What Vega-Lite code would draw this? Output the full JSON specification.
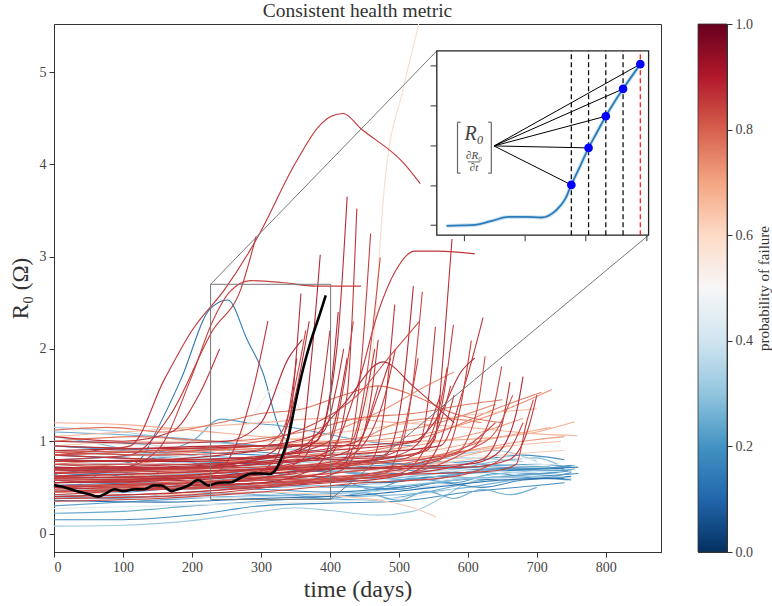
{
"$schema":"https://vega.github.io/schema/vega-lite/v6.json",
"padding":{"left":8,"top":0,"right":0,"bottom":0},
"spacing":35,
"config":{"font":"Liberation Serif","view":{"stroke":"#333","strokeWidth":1},
"axis":{"grid":false,"labelFont":"Liberation Serif","labelFontSize":14,"labelColor":"#444","tickColor":"#333","domainColor":"#333","tickSize":5,"titleFont":"Liberation Serif","titleFontWeight":"normal","titleColor":"#333"}},
"datasets":{
"meta":[{"s":1,"p":0.18},{"s":2,"p":0.12},{"s":3,"p":0.25},{"s":4,"p":0.2},{"s":5,"p":0.3},{"s":6,"p":0.15},{"s":7,"p":0.22},{"s":8,"p":0.1},{"s":9,"p":0.28},{"s":10,"p":0.2},{"s":11,"p":0.16},{"s":12,"p":0.33},{"s":13,"p":0.24},{"s":14,"p":0.14},{"s":15,"p":0.3},{"s":16,"p":0.07},{"s":17,"p":0.38},{"s":18,"p":0.42},{"s":19,"p":0.36},{"s":20,"p":0.45},{"s":21,"p":0.19},{"s":22,"p":0.26},{"s":23,"p":0.1},{"s":24,"p":0.2},{"s":25,"p":0.17},{"s":26,"p":0.23},{"s":27,"p":0.13},{"s":28,"p":0.5},{"s":29,"p":0.55},{"s":30,"p":0.52},{"s":31,"p":0.48},{"s":32,"p":0.7},{"s":33,"p":0.68},{"s":34,"p":0.75},{"s":35,"p":0.78},{"s":36,"p":0.65},{"s":37,"p":0.72},{"s":38,"p":0.8},{"s":39,"p":0.66},{"s":40,"p":0.74},{"s":41,"p":0.7},{"s":42,"p":0.6},{"s":43,"p":0.76},{"s":44,"p":0.64},{"s":45,"p":0.73},{"s":46,"p":0.79},{"s":47,"p":0.9},{"s":48,"p":0.88},{"s":49,"p":0.9},{"s":50,"p":0.92},{"s":51,"p":0.9},{"s":52,"p":0.88},{"s":53,"p":0.93},{"s":54,"p":0.86},{"s":55,"p":0.9},{"s":56,"p":0.92},{"s":57,"p":0.87},{"s":58,"p":0.9},{"s":59,"p":0.91},{"s":60,"p":0.89},{"s":61,"p":0.9},{"s":62,"p":0.88},{"s":63,"p":0.86},{"s":64,"p":0.87},{"s":65,"p":0.9},{"s":66,"p":0.88},{"s":67,"p":0.9},{"s":68,"p":0.93},{"s":69,"p":0.91},{"s":70,"p":0.9},{"s":71,"p":0.88},{"s":72,"p":0.9},{"s":73,"p":0.86},{"s":74,"p":0.92},{"s":75,"p":0.9},{"s":76,"p":0.87},{"s":77,"p":0.93},{"s":78,"p":0.89},{"s":79,"p":0.9},{"s":80,"p":0.85},{"s":81,"p":0.92},{"s":82,"p":0.9},{"s":83,"p":0.88},{"s":84,"p":0.91},{"s":85,"p":0.93},{"s":86,"p":0.87},{"s":87,"p":0.9},{"s":88,"p":0.88},{"s":89,"p":0.92},{"s":90,"p":0.86},{"s":91,"p":0.9},{"s":92,"p":0.87},{"s":93,"p":0.91},{"s":94,"p":0.89},{"s":95,"p":0.7},{"s":96,"p":0.63},{"s":97,"p":0.77},{"s":98,"p":0.82},{"s":99,"p":0.15},{"s":100,"p":0.22},{"s":101,"p":0.32},{"s":102,"p":0.12},{"s":103,"p":0.27},{"s":104,"p":0.4},{"s":105,"p":0.08},{"s":106,"p":0.9},{"s":107,"p":0.93},{"s":108,"p":0.88}],
"pts":[
{"s":1,"t":0,"r":0.95},{"s":1,"t":100,"r":0.9},{"s":1,"t":200,"r":0.85},{"s":1,"t":300,"r":0.8},{"s":1,"t":400,"r":0.72},{"s":1,"t":500,"r":0.7},{"s":1,"t":600,"r":0.72},{"s":1,"t":700,"r":0.75},{"s":1,"t":750,"r":0.72},
{"s":2,"t":0,"r":0.7},{"s":2,"t":120,"r":0.62},{"s":2,"t":240,"r":0.66},{"s":2,"t":360,"r":0.6},{"s":2,"t":460,"r":0.55},{"s":2,"t":560,"r":0.62},{"s":2,"t":650,"r":0.7},{"s":2,"t":745,"r":0.68},
{"s":3,"t":0,"r":0.45},{"s":3,"t":100,"r":0.5},{"s":3,"t":200,"r":0.48},{"s":3,"t":300,"r":0.55},{"s":3,"t":400,"r":0.5},{"s":3,"t":500,"r":0.58},{"s":3,"t":600,"r":0.65},{"s":3,"t":700,"r":0.7},{"s":3,"t":755,"r":0.74},
{"s":4,"t":0,"r":0.3},{"s":4,"t":120,"r":0.35},{"s":4,"t":250,"r":0.4},{"s":4,"t":350,"r":0.42},{"s":4,"t":450,"r":0.45},{"s":4,"t":550,"r":0.55},{"s":4,"t":650,"r":0.62},{"s":4,"t":730,"r":0.66},
{"s":5,"t":0,"r":0.08},{"s":5,"t":100,"r":0.09},{"s":5,"t":200,"r":0.14},{"s":5,"t":300,"r":0.24},{"s":5,"t":350,"r":0.28},{"s":5,"t":400,"r":0.25},{"s":5,"t":470,"r":0.2},{"s":5,"t":520,"r":0.24},{"s":5,"t":567,"r":0.41},{"s":5,"t":600,"r":0.55},{"s":5,"t":650,"r":0.62},
{"s":6,"t":0,"r":0.15},{"s":6,"t":100,"r":0.15},{"s":6,"t":200,"r":0.2},{"s":6,"t":300,"r":0.3},{"s":6,"t":400,"r":0.33},{"s":6,"t":500,"r":0.35},{"s":6,"t":600,"r":0.45},{"s":6,"t":700,"r":0.52},{"s":6,"t":740,"r":0.55},
{"s":7,"t":0,"r":0.22},{"s":7,"t":100,"r":0.24},{"s":7,"t":200,"r":0.3},{"s":7,"t":300,"r":0.35},{"s":7,"t":380,"r":0.38},{"s":7,"t":460,"r":0.36},{"s":7,"t":540,"r":0.45},{"s":7,"t":640,"r":0.6},{"s":7,"t":720,"r":0.65},
{"s":8,"t":0,"r":0.8},{"s":8,"t":80,"r":0.75},{"s":8,"t":160,"r":0.82},{"s":8,"t":240,"r":0.7},{"s":8,"t":320,"r":0.65},{"s":8,"t":400,"r":0.6},{"s":8,"t":480,"r":0.55},{"s":8,"t":560,"r":0.62},{"s":8,"t":650,"r":0.58},{"s":8,"t":750,"r":0.62},
{"s":9,"t":0,"r":1.05},{"s":9,"t":80,"r":0.95},{"s":9,"t":160,"r":0.8},{"s":9,"t":240,"r":0.75},{"s":9,"t":320,"r":0.7},{"s":9,"t":400,"r":0.68},{"s":9,"t":480,"r":0.62},{"s":9,"t":560,"r":0.65},{"s":9,"t":640,"r":0.72},{"s":9,"t":710,"r":0.7},
{"s":10,"t":0,"r":0.55},{"s":10,"t":90,"r":0.58},{"s":10,"t":180,"r":0.52},{"s":10,"t":270,"r":0.6},{"s":10,"t":360,"r":0.55},{"s":10,"t":450,"r":0.6},{"s":10,"t":540,"r":0.58},{"s":10,"t":630,"r":0.7},{"s":10,"t":720,"r":0.68},{"s":10,"t":755,"r":0.7},
{"s":11,"t":0,"r":0.62},{"s":11,"t":100,"r":0.66},{"s":11,"t":200,"r":0.6},{"s":11,"t":300,"r":0.64},{"s":11,"t":400,"r":0.7},{"s":11,"t":500,"r":0.75},{"s":11,"t":600,"r":0.78},{"s":11,"t":680,"r":0.85},{"s":11,"t":740,"r":0.8},
{"s":12,"t":0,"r":1.15},{"s":12,"t":100,"r":1.1},{"s":12,"t":200,"r":1.0},{"s":12,"t":300,"r":0.95},{"s":12,"t":400,"r":0.85},{"s":12,"t":500,"r":0.8},{"s":12,"t":600,"r":0.82},{"s":12,"t":680,"r":0.78},
{"s":13,"t":0,"r":0.4},{"s":13,"t":100,"r":0.38},{"s":13,"t":200,"r":0.45},{"s":13,"t":300,"r":0.42},{"s":13,"t":400,"r":0.4},{"s":13,"t":500,"r":0.42},{"s":13,"t":600,"r":0.5},{"s":13,"t":700,"r":0.6},{"s":13,"t":745,"r":0.58},
{"s":14,"t":0,"r":0.5},{"s":14,"t":100,"r":0.45},{"s":14,"t":200,"r":0.5},{"s":14,"t":300,"r":0.48},{"s":14,"t":400,"r":0.45},{"s":14,"t":500,"r":0.5},{"s":14,"t":600,"r":0.6},{"s":14,"t":700,"r":0.62},{"s":14,"t":760,"r":0.65},
{"s":15,"t":0,"r":0.75},{"s":15,"t":100,"r":0.72},{"s":15,"t":200,"r":0.78},{"s":15,"t":300,"r":0.74},{"s":15,"t":400,"r":0.68},{"s":15,"t":500,"r":0.72},{"s":15,"t":580,"r":0.85},{"s":15,"t":640,"r":0.9},{"s":15,"t":700,"r":0.78},
{"s":16,"t":0,"r":0.85},{"s":16,"t":150,"r":0.8},{"s":16,"t":300,"r":0.75},{"s":16,"t":450,"r":0.7},{"s":16,"t":550,"r":0.68},{"s":16,"t":650,"r":0.72},{"s":16,"t":740,"r":0.7},
{"s":17,"t":0,"r":0.35},{"s":17,"t":150,"r":0.38},{"s":17,"t":300,"r":0.4},{"s":17,"t":400,"r":0.42},{"s":17,"t":500,"r":0.48},{"s":17,"t":600,"r":0.55},{"s":17,"t":700,"r":0.6},{"s":17,"t":740,"r":0.62},
{"s":18,"t":0,"r":0.6},{"s":18,"t":150,"r":0.55},{"s":18,"t":300,"r":0.62},{"s":18,"t":400,"r":0.58},{"s":18,"t":500,"r":0.52},{"s":18,"t":600,"r":0.6},{"s":18,"t":690,"r":0.58},
{"s":19,"t":0,"r":0.9},{"s":19,"t":120,"r":0.85},{"s":19,"t":250,"r":0.8},{"s":19,"t":400,"r":0.78},{"s":19,"t":500,"r":0.75},{"s":19,"t":600,"r":0.7},{"s":19,"t":720,"r":0.72},
{"s":20,"t":0,"r":0.27},{"s":20,"t":150,"r":0.3},{"s":20,"t":300,"r":0.33},{"s":20,"t":450,"r":0.36},{"s":20,"t":520,"r":0.4},{"s":20,"t":580,"r":0.48},
{"s":21,"t":0,"r":0.65},{"s":21,"t":40,"r":0.55},{"s":21,"t":80,"r":0.7},{"s":21,"t":130,"r":0.6},{"s":21,"t":170,"r":0.72},{"s":21,"t":230,"r":0.6},{"s":21,"t":280,"r":0.68},{"s":21,"t":340,"r":0.5},{"s":21,"t":400,"r":0.62},{"s":21,"t":460,"r":0.48},{"s":21,"t":520,"r":0.6},{"s":21,"t":580,"r":0.55},{"s":21,"t":640,"r":0.65},{"s":21,"t":700,"r":0.6},{"s":21,"t":750,"r":0.66},
{"s":22,"t":0,"r":0.58},{"s":22,"t":100,"r":0.6},{"s":22,"t":200,"r":0.65},{"s":22,"t":300,"r":0.7},{"s":22,"t":400,"r":0.68},{"s":22,"t":480,"r":0.6},{"s":22,"t":560,"r":0.66},{"s":22,"t":640,"r":0.78},{"s":22,"t":700,"r":0.82},{"s":22,"t":730,"r":0.75},
{"s":23,"t":0,"r":0.62},{"s":23,"t":100,"r":0.7},{"s":23,"t":130,"r":0.85},{"s":23,"t":145,"r":1.06},{"s":23,"t":184,"r":1.67},{"s":23,"t":226,"r":2.43},{"s":23,"t":252,"r":2.53},{"s":23,"t":280,"r":2.1},{"s":23,"t":303,"r":1.74},{"s":23,"t":325,"r":1.17},{"s":23,"t":345,"r":0.92},
{"s":24,"t":0,"r":0.8},{"s":24,"t":120,"r":0.85},{"s":24,"t":200,"r":1.0},{"s":24,"t":242,"r":1.24},{"s":24,"t":280,"r":1.2},{"s":24,"t":325,"r":1.17},{"s":24,"t":380,"r":1.1},{"s":24,"t":450,"r":1.0},{"s":24,"t":520,"r":0.95},
{"s":25,"t":0,"r":1.0},{"s":25,"t":100,"r":0.98},{"s":25,"t":200,"r":0.92},{"s":25,"t":300,"r":0.88},{"s":25,"t":400,"r":0.8},{"s":25,"t":500,"r":0.75},{"s":25,"t":600,"r":0.7},{"s":25,"t":700,"r":0.65},{"s":25,"t":750,"r":0.68},
{"s":26,"t":0,"r":0.42},{"s":26,"t":150,"r":0.4},{"s":26,"t":300,"r":0.45},{"s":26,"t":400,"r":0.38},{"s":26,"t":450,"r":0.44},{"s":26,"t":500,"r":0.36},{"s":26,"t":540,"r":0.46},{"s":26,"t":580,"r":0.38},{"s":26,"t":620,"r":0.48},{"s":26,"t":660,"r":0.42},{"s":26,"t":700,"r":0.5},
{"s":27,"t":0,"r":0.52},{"s":27,"t":150,"r":0.55},{"s":27,"t":300,"r":0.5},{"s":27,"t":420,"r":0.52},{"s":27,"t":500,"r":0.48},{"s":27,"t":560,"r":0.55},{"s":27,"t":620,"r":0.5},{"s":27,"t":680,"r":0.58},{"s":27,"t":720,"r":0.6},{"s":27,"t":750,"r":0.58},
{"s":99,"t":0,"r":0.95},{"s":99,"t":150,"r":0.9},{"s":99,"t":300,"r":0.85},{"s":99,"t":450,"r":0.78},{"s":99,"t":600,"r":0.72},{"s":99,"t":700,"r":0.7},{"s":99,"t":750,"r":0.74},
{"s":100,"t":0,"r":1.1},{"s":100,"t":150,"r":1.05},{"s":100,"t":300,"r":0.95},{"s":100,"t":450,"r":0.85},{"s":100,"t":600,"r":0.76},{"s":100,"t":720,"r":0.72},
{"s":101,"t":0,"r":0.85},{"s":101,"t":100,"r":0.88},{"s":101,"t":200,"r":0.82},{"s":101,"t":300,"r":0.8},{"s":101,"t":400,"r":0.75},{"s":101,"t":500,"r":0.65},{"s":101,"t":600,"r":0.6},{"s":101,"t":700,"r":0.62},{"s":101,"t":750,"r":0.6},
{"s":102,"t":0,"r":0.72},{"s":102,"t":120,"r":0.68},{"s":102,"t":240,"r":0.72},{"s":102,"t":360,"r":0.68},{"s":102,"t":480,"r":0.65},{"s":102,"t":600,"r":0.66},{"s":102,"t":700,"r":0.7},{"s":102,"t":760,"r":0.72},
{"s":103,"t":0,"r":0.47},{"s":103,"t":150,"r":0.5},{"s":103,"t":300,"r":0.52},{"s":103,"t":450,"r":0.5},{"s":103,"t":550,"r":0.55},{"s":103,"t":650,"r":0.65},{"s":103,"t":720,"r":0.7},
{"s":104,"t":0,"r":0.78},{"s":104,"t":150,"r":0.75},{"s":104,"t":300,"r":0.72},{"s":104,"t":450,"r":0.7},{"s":104,"t":600,"r":0.68},{"s":104,"t":700,"r":0.66},
{"s":105,"t":0,"r":0.36},{"s":105,"t":150,"r":0.34},{"s":105,"t":300,"r":0.38},{"s":105,"t":450,"r":0.42},{"s":105,"t":550,"r":0.5},{"s":105,"t":650,"r":0.58},{"s":105,"t":740,"r":0.6},
{"s":28,"t":0,"r":0.7},{"s":28,"t":100,"r":0.72},{"s":28,"t":200,"r":0.68},{"s":28,"t":300,"r":0.75},{"s":28,"t":400,"r":0.72},{"s":28,"t":500,"r":0.8},{"s":28,"t":600,"r":0.85},{"s":28,"t":700,"r":0.8},
{"s":29,"t":0,"r":1.0},{"s":29,"t":150,"r":0.95},{"s":29,"t":300,"r":0.9},{"s":29,"t":400,"r":0.95},{"s":29,"t":500,"r":0.92},{"s":29,"t":600,"r":0.9},{"s":29,"t":660,"r":0.95},
{"s":30,"t":0,"r":0.75},{"s":30,"t":150,"r":0.8},{"s":30,"t":250,"r":0.9},{"s":30,"t":290,"r":1.3},{"s":30,"t":320,"r":1.58},{"s":30,"t":345,"r":1.5},{"s":30,"t":370,"r":1.1},{"s":30,"t":400,"r":0.9},{"s":30,"t":480,"r":0.8},
{"s":31,"t":0,"r":0.45},{"s":31,"t":120,"r":0.5},{"s":31,"t":240,"r":0.55},{"s":31,"t":360,"r":0.5},{"s":31,"t":480,"r":0.6},{"s":31,"t":600,"r":0.7},{"s":31,"t":720,"r":0.75},
{"s":32,"t":0,"r":1.2},{"s":32,"t":100,"r":1.18},{"s":32,"t":200,"r":1.12},{"s":32,"t":300,"r":1.05},{"s":32,"t":400,"r":1.0},{"s":32,"t":500,"r":1.0},{"s":32,"t":600,"r":1.02},{"s":32,"t":700,"r":1.1},{"s":32,"t":755,"r":1.21},
{"s":33,"t":0,"r":1.05},{"s":33,"t":100,"r":1.1},{"s":33,"t":200,"r":1.15},{"s":33,"t":300,"r":1.2},{"s":33,"t":400,"r":1.25},{"s":33,"t":500,"r":1.2},{"s":33,"t":600,"r":1.15},{"s":33,"t":700,"r":1.08},{"s":33,"t":759,"r":1.06},
{"s":34,"t":0,"r":0.9},{"s":34,"t":120,"r":0.85},{"s":34,"t":240,"r":0.9},{"s":34,"t":360,"r":0.95},{"s":34,"t":450,"r":1.0},{"s":34,"t":550,"r":1.1},{"s":34,"t":640,"r":1.3},{"s":34,"t":722,"r":1.56},
{"s":35,"t":0,"r":0.75},{"s":35,"t":120,"r":0.8},{"s":35,"t":240,"r":0.78},{"s":35,"t":360,"r":0.85},{"s":35,"t":460,"r":0.9},{"s":35,"t":560,"r":1.1},{"s":35,"t":640,"r":1.35},{"s":35,"t":707,"r":1.53},
{"s":36,"t":0,"r":0.95},{"s":36,"t":150,"r":1.0},{"s":36,"t":300,"r":1.0},{"s":36,"t":420,"r":1.1},{"s":36,"t":520,"r":1.2},{"s":36,"t":620,"r":1.3},{"s":36,"t":700,"r":1.35},
{"s":37,"t":0,"r":0.62},{"s":37,"t":150,"r":0.65},{"s":37,"t":300,"r":0.7},{"s":37,"t":400,"r":0.78},{"s":37,"t":480,"r":0.9},{"s":37,"t":560,"r":1.0},{"s":37,"t":620,"r":1.1},{"s":37,"t":680,"r":1.25},
{"s":38,"t":0,"r":1.12},{"s":38,"t":80,"r":1.15},{"s":38,"t":160,"r":1.1},{"s":38,"t":240,"r":1.2},{"s":38,"t":300,"r":1.3},{"s":38,"t":360,"r":1.35},{"s":38,"t":420,"r":1.5},{"s":38,"t":470,"r":1.6},{"s":38,"t":520,"r":1.5},{"s":38,"t":580,"r":1.3},{"s":38,"t":650,"r":1.2},
{"s":39,"t":0,"r":0.55},{"s":39,"t":120,"r":0.6},{"s":39,"t":240,"r":0.62},{"s":39,"t":360,"r":0.7},{"s":39,"t":460,"r":0.75},{"s":39,"t":560,"r":0.85},{"s":39,"t":660,"r":0.95},{"s":39,"t":735,"r":1.0},
{"s":40,"t":0,"r":0.85},{"s":40,"t":100,"r":0.88},{"s":40,"t":200,"r":0.92},{"s":40,"t":300,"r":0.95},{"s":40,"t":360,"r":1.0},{"s":40,"t":420,"r":1.15},{"s":40,"t":480,"r":1.35},{"s":40,"t":540,"r":1.6},{"s":40,"t":580,"r":1.75},
{"s":41,"t":0,"r":0.48},{"s":41,"t":150,"r":0.5},{"s":41,"t":300,"r":0.55},{"s":41,"t":420,"r":0.6},{"s":41,"t":520,"r":0.7},{"s":41,"t":600,"r":0.85},{"s":41,"t":660,"r":0.95},
{"s":42,"t":0,"r":0.8},{"s":42,"t":150,"r":0.78},{"s":42,"t":300,"r":0.82},{"s":42,"t":400,"r":0.85},{"s":42,"t":440,"r":1.0},{"s":42,"t":460,"r":1.81},{"s":42,"t":480,"r":3.84},{"s":42,"t":506,"r":4.81},{"s":42,"t":528,"r":5.5},{"s":42,"t":540,"r":5.9},
{"s":43,"t":0,"r":0.7},{"s":43,"t":100,"r":0.75},{"s":43,"t":200,"r":0.8},{"s":43,"t":300,"r":0.78},{"s":43,"t":380,"r":0.85},{"s":43,"t":440,"r":1.0},{"s":43,"t":500,"r":1.2},{"s":43,"t":560,"r":1.25},{"s":43,"t":620,"r":1.2},
{"s":44,"t":0,"r":0.45},{"s":44,"t":150,"r":0.42},{"s":44,"t":300,"r":0.45},{"s":44,"t":420,"r":0.4},{"s":44,"t":480,"r":0.35},{"s":44,"t":520,"r":0.28},{"s":44,"t":554,"r":0.18},
{"s":45,"t":0,"r":0.6},{"s":45,"t":100,"r":0.62},{"s":45,"t":200,"r":0.66},{"s":45,"t":300,"r":0.68},{"s":45,"t":400,"r":0.72},{"s":45,"t":500,"r":0.8},{"s":45,"t":600,"r":0.9},{"s":45,"t":680,"r":1.0},{"s":45,"t":740,"r":1.05},
{"s":46,"t":0,"r":1.0},{"s":46,"t":120,"r":1.05},{"s":46,"t":240,"r":1.0},{"s":46,"t":360,"r":1.1},{"s":46,"t":440,"r":1.25},{"s":46,"t":520,"r":1.3},{"s":46,"t":600,"r":1.4},{"s":46,"t":650,"r":1.45},
{"s":95,"t":0,"r":0.65},{"s":95,"t":150,"r":0.68},{"s":95,"t":300,"r":0.72},{"s":95,"t":450,"r":0.8},{"s":95,"t":550,"r":0.9},{"s":95,"t":650,"r":1.05},{"s":95,"t":720,"r":1.15},
{"s":96,"t":0,"r":0.58},{"s":96,"t":150,"r":0.6},{"s":96,"t":300,"r":0.62},{"s":96,"t":450,"r":0.68},{"s":96,"t":550,"r":0.75},{"s":96,"t":650,"r":0.85},{"s":96,"t":740,"r":0.9},
{"s":97,"t":0,"r":0.88},{"s":97,"t":150,"r":0.9},{"s":97,"t":300,"r":0.92},{"s":97,"t":400,"r":1.0},{"s":97,"t":500,"r":1.1},{"s":97,"t":580,"r":1.25},{"s":97,"t":640,"r":1.4},
{"s":98,"t":0,"r":0.5},{"s":98,"t":150,"r":0.55},{"s":98,"t":300,"r":0.6},{"s":98,"t":400,"r":0.65},{"s":98,"t":480,"r":0.72},{"s":98,"t":560,"r":0.85},{"s":98,"t":620,"r":1.0},
{"s":47,"t":0,"r":0.85},{"s":47,"t":60,"r":0.9},{"s":47,"t":111,"r":0.95},{"s":47,"t":160,"r":1.67},{"s":47,"t":200,"r":2.2},{"s":47,"t":248,"r":2.65},{"s":47,"t":296,"r":3.22},{"s":47,"t":349,"r":4.0},{"s":47,"t":385,"r":4.42},{"s":47,"t":402,"r":4.52},{"s":47,"t":419,"r":4.55},{"s":47,"t":446,"r":4.38},{"s":47,"t":506,"r":4.02},{"s":47,"t":531,"r":3.79},
{"s":48,"t":0,"r":0.75},{"s":48,"t":100,"r":0.72},{"s":48,"t":150,"r":0.9},{"s":48,"t":198,"r":1.67},{"s":48,"t":230,"r":2.3},{"s":48,"t":255,"r":2.62},{"s":48,"t":285,"r":2.74},{"s":48,"t":330,"r":2.72},{"s":48,"t":380,"r":2.68},{"s":48,"t":445,"r":2.68},
{"s":49,"t":0,"r":0.6},{"s":49,"t":150,"r":0.62},{"s":49,"t":300,"r":0.7},{"s":49,"t":400,"r":0.9},{"s":49,"t":440,"r":1.6},{"s":49,"t":470,"r":2.4},{"s":49,"t":494,"r":2.83},{"s":49,"t":523,"r":3.06},{"s":49,"t":557,"r":3.06},{"s":49,"t":610,"r":3.03},
{"s":50,"t":0,"r":0.8},{"s":50,"t":100,"r":0.78},{"s":50,"t":200,"r":0.82},{"s":50,"t":300,"r":0.9},{"s":50,"t":380,"r":1.0},{"s":50,"t":410,"r":2.0},{"s":50,"t":425,"r":3.65},
{"s":51,"t":0,"r":0.65},{"s":51,"t":150,"r":0.7},{"s":51,"t":300,"r":0.75},{"s":51,"t":400,"r":0.85},{"s":51,"t":425,"r":1.5},{"s":51,"t":439,"r":3.52},
{"s":52,"t":0,"r":0.55},{"s":52,"t":150,"r":0.6},{"s":52,"t":300,"r":0.7},{"s":52,"t":420,"r":0.8},{"s":52,"t":445,"r":1.8},{"s":52,"t":459,"r":3.25},
{"s":53,"t":0,"r":0.7},{"s":53,"t":150,"r":0.72},{"s":53,"t":300,"r":0.78},{"s":53,"t":355,"r":0.85},{"s":53,"t":372,"r":1.8},{"s":53,"t":386,"r":3.02},
{"s":54,"t":0,"r":0.9},{"s":54,"t":150,"r":0.88},{"s":54,"t":300,"r":0.95},{"s":54,"t":430,"r":1.0},{"s":54,"t":455,"r":1.8},{"s":54,"t":473,"r":2.99},
{"s":55,"t":0,"r":0.5},{"s":55,"t":200,"r":0.55},{"s":55,"t":350,"r":0.65},{"s":55,"t":460,"r":0.8},{"s":55,"t":480,"r":1.4},{"s":55,"t":494,"r":2.48},
{"s":56,"t":0,"r":0.72},{"s":56,"t":200,"r":0.7},{"s":56,"t":350,"r":0.8},{"s":56,"t":480,"r":0.85},{"s":56,"t":505,"r":1.5},{"s":56,"t":521,"r":2.68},
{"s":57,"t":0,"r":0.6},{"s":57,"t":200,"r":0.62},{"s":57,"t":380,"r":0.7},{"s":57,"t":500,"r":0.9},{"s":57,"t":520,"r":1.6},{"s":57,"t":534,"r":2.62},
{"s":58,"t":0,"r":0.85},{"s":58,"t":200,"r":0.8},{"s":58,"t":400,"r":0.9},{"s":58,"t":530,"r":1.0},{"s":58,"t":545,"r":1.6},{"s":58,"t":553,"r":2.24},
{"s":59,"t":0,"r":0.7},{"s":59,"t":200,"r":0.75},{"s":59,"t":400,"r":0.8},{"s":59,"t":520,"r":0.85},{"s":59,"t":552,"r":1.02},{"s":59,"t":565,"r":2.0},{"s":59,"t":577,"r":3.19},
{"s":60,"t":0,"r":0.55},{"s":60,"t":200,"r":0.6},{"s":60,"t":400,"r":0.75},{"s":60,"t":540,"r":0.9},{"s":60,"t":565,"r":1.5},{"s":60,"t":579,"r":2.26},
{"s":61,"t":0,"r":0.78},{"s":61,"t":200,"r":0.8},{"s":61,"t":400,"r":0.85},{"s":61,"t":560,"r":0.95},{"s":61,"t":595,"r":1.6},{"s":61,"t":622,"r":2.34},
{"s":62,"t":0,"r":0.42},{"s":62,"t":200,"r":0.5},{"s":62,"t":400,"r":0.6},{"s":62,"t":560,"r":0.8},{"s":62,"t":590,"r":1.4},{"s":62,"t":605,"r":2.09},
{"s":63,"t":0,"r":0.5},{"s":63,"t":200,"r":0.55},{"s":63,"t":400,"r":0.65},{"s":63,"t":580,"r":0.85},{"s":63,"t":612,"r":1.3},{"s":63,"t":625,"r":1.92},
{"s":64,"t":0,"r":0.62},{"s":64,"t":250,"r":0.68},{"s":64,"t":450,"r":0.75},{"s":64,"t":600,"r":0.9},{"s":64,"t":635,"r":1.3},{"s":64,"t":649,"r":1.81},
{"s":65,"t":0,"r":0.46},{"s":65,"t":250,"r":0.5},{"s":65,"t":450,"r":0.6},{"s":65,"t":620,"r":0.8},{"s":65,"t":650,"r":1.2},{"s":65,"t":661,"r":1.64},
{"s":66,"t":0,"r":0.55},{"s":66,"t":200,"r":0.6},{"s":66,"t":400,"r":0.62},{"s":66,"t":550,"r":0.65},{"s":66,"t":640,"r":0.68},{"s":66,"t":670,"r":0.75},{"s":66,"t":685,"r":1.2},{"s":66,"t":695,"r":1.45},
{"s":67,"t":0,"r":0.8},{"s":67,"t":110,"r":0.85},{"s":67,"t":170,"r":1.3},{"s":67,"t":230,"r":2.2},{"s":67,"t":271,"r":2.65},{"s":67,"t":293,"r":3.22},
{"s":68,"t":0,"r":1.0},{"s":68,"t":150,"r":0.98},{"s":68,"t":250,"r":1.0},{"s":68,"t":300,"r":1.2},{"s":68,"t":340,"r":1.9},{"s":68,"t":360,"r":2.1},
{"s":69,"t":0,"r":0.68},{"s":69,"t":150,"r":0.7},{"s":69,"t":260,"r":0.75},{"s":69,"t":320,"r":0.9},{"s":69,"t":350,"r":1.5},{"s":69,"t":370,"r":2.3},
{"s":70,"t":0,"r":0.58},{"s":70,"t":200,"r":0.6},{"s":70,"t":300,"r":0.65},{"s":70,"t":360,"r":0.8},{"s":70,"t":390,"r":1.6},{"s":70,"t":400,"r":2.2},
{"s":71,"t":0,"r":0.75},{"s":71,"t":200,"r":0.75},{"s":71,"t":330,"r":0.85},{"s":71,"t":400,"r":1.0},{"s":71,"t":420,"r":1.6},{"s":71,"t":434,"r":2.3},
{"s":72,"t":0,"r":0.52},{"s":72,"t":200,"r":0.55},{"s":72,"t":350,"r":0.6},{"s":72,"t":420,"r":0.75},{"s":72,"t":450,"r":1.4},{"s":72,"t":465,"r":2.0},
{"s":73,"t":0,"r":0.85},{"s":73,"t":150,"r":0.9},{"s":73,"t":300,"r":1.0},{"s":73,"t":380,"r":1.2},{"s":73,"t":440,"r":1.5},{"s":73,"t":490,"r":1.95},{"s":73,"t":530,"r":2.3},
{"s":74,"t":0,"r":0.7},{"s":74,"t":200,"r":0.72},{"s":74,"t":350,"r":0.9},{"s":74,"t":420,"r":1.4},{"s":74,"t":477,"r":1.86},{"s":74,"t":520,"r":1.6},{"s":74,"t":580,"r":1.2},
{"s":75,"t":0,"r":0.6},{"s":75,"t":150,"r":0.62},{"s":75,"t":230,"r":0.65},{"s":75,"t":260,"r":0.9},{"s":75,"t":290,"r":1.6},{"s":75,"t":310,"r":2.3},
{"s":76,"t":0,"r":0.45},{"s":76,"t":200,"r":0.5},{"s":76,"t":300,"r":0.55},{"s":76,"t":480,"r":0.65},{"s":76,"t":510,"r":1.2},{"s":76,"t":528,"r":1.9},
{"s":77,"t":0,"r":0.9},{"s":77,"t":120,"r":0.92},{"s":77,"t":250,"r":0.95},{"s":77,"t":400,"r":0.95},{"s":77,"t":520,"r":1.0},{"s":77,"t":560,"r":1.3},{"s":77,"t":590,"r":1.75},{"s":77,"t":610,"r":1.9},
{"s":78,"t":0,"r":0.65},{"s":78,"t":200,"r":0.68},{"s":78,"t":400,"r":0.7},{"s":78,"t":600,"r":0.72},{"s":78,"t":660,"r":0.8},{"s":78,"t":690,"r":1.2},{"s":78,"t":700,"r":1.5},
{"s":79,"t":0,"r":1.05},{"s":79,"t":100,"r":1.0},{"s":79,"t":170,"r":1.1},{"s":79,"t":210,"r":1.5},{"s":79,"t":240,"r":2.0},
{"s":80,"t":0,"r":0.48},{"s":80,"t":150,"r":0.52},{"s":80,"t":300,"r":0.58},{"s":80,"t":450,"r":0.6},{"s":80,"t":540,"r":0.7},{"s":80,"t":600,"r":0.9},{"s":80,"t":640,"r":1.1},{"s":80,"t":665,"r":1.5},
{"s":81,"t":0,"r":0.62},{"s":81,"t":150,"r":0.6},{"s":81,"t":300,"r":0.68},{"s":81,"t":330,"r":0.75},{"s":81,"t":345,"r":1.4},{"s":81,"t":358,"r":2.6},
{"s":82,"t":0,"r":0.78},{"s":82,"t":200,"r":0.8},{"s":82,"t":380,"r":0.9},{"s":82,"t":440,"r":1.0},{"s":82,"t":470,"r":1.5},{"s":82,"t":488,"r":1.9},
{"s":83,"t":0,"r":0.4},{"s":83,"t":200,"r":0.45},{"s":83,"t":350,"r":0.55},{"s":83,"t":500,"r":0.65},{"s":83,"t":540,"r":0.95},{"s":83,"t":560,"r":1.4},{"s":83,"t":570,"r":1.8},
{"s":84,"t":0,"r":0.95},{"s":84,"t":150,"r":0.92},{"s":84,"t":300,"r":0.95},{"s":84,"t":390,"r":1.1},{"s":84,"t":410,"r":1.6},{"s":84,"t":420,"r":2.0},
{"s":85,"t":0,"r":0.55},{"s":85,"t":200,"r":0.58},{"s":85,"t":400,"r":0.7},{"s":85,"t":600,"r":0.75},{"s":85,"t":640,"r":0.85},{"s":85,"t":670,"r":1.3},{"s":85,"t":680,"r":1.7},
{"s":86,"t":0,"r":0.88},{"s":86,"t":150,"r":0.85},{"s":86,"t":290,"r":0.9},{"s":86,"t":330,"r":1.1},{"s":86,"t":355,"r":1.8},{"s":86,"t":365,"r":2.2},
{"s":87,"t":0,"r":0.4},{"s":87,"t":100,"r":0.42},{"s":87,"t":200,"r":0.45},{"s":87,"t":300,"r":0.5},{"s":87,"t":400,"r":0.55},{"s":87,"t":480,"r":0.6},{"s":87,"t":530,"r":0.7},{"s":87,"t":560,"r":1.0},{"s":87,"t":580,"r":1.5},
{"s":88,"t":0,"r":0.38},{"s":88,"t":150,"r":0.4},{"s":88,"t":250,"r":0.45},{"s":88,"t":350,"r":0.55},{"s":88,"t":420,"r":0.7},{"s":88,"t":450,"r":1.1},{"s":88,"t":470,"r":1.6},
{"s":89,"t":0,"r":0.5},{"s":89,"t":100,"r":0.48},{"s":89,"t":200,"r":0.52},{"s":89,"t":300,"r":0.55},{"s":89,"t":350,"r":0.62},{"s":89,"t":390,"r":0.8},{"s":89,"t":410,"r":1.3},{"s":89,"t":425,"r":1.9},
{"s":90,"t":0,"r":0.45},{"s":90,"t":150,"r":0.48},{"s":90,"t":300,"r":0.52},{"s":90,"t":420,"r":0.6},{"s":90,"t":520,"r":0.75},{"s":90,"t":600,"r":0.95},{"s":90,"t":640,"r":1.2},
{"s":91,"t":0,"r":0.58},{"s":91,"t":100,"r":0.55},{"s":91,"t":200,"r":0.6},{"s":91,"t":280,"r":0.62},{"s":91,"t":320,"r":0.8},{"s":91,"t":340,"r":1.3},{"s":91,"t":352,"r":1.9},
{"s":92,"t":0,"r":0.35},{"s":92,"t":150,"r":0.38},{"s":92,"t":300,"r":0.45},{"s":92,"t":450,"r":0.55},{"s":92,"t":560,"r":0.6},{"s":92,"t":620,"r":0.7},{"s":92,"t":660,"r":0.9},{"s":92,"t":680,"r":1.2},
{"s":93,"t":0,"r":0.62},{"s":93,"t":150,"r":0.65},{"s":93,"t":300,"r":0.7},{"s":93,"t":420,"r":0.75},{"s":93,"t":500,"r":0.85},{"s":93,"t":540,"r":1.1},{"s":93,"t":560,"r":1.5},
{"s":94,"t":0,"r":0.52},{"s":94,"t":120,"r":0.5},{"s":94,"t":240,"r":0.55},{"s":94,"t":300,"r":0.6},{"s":94,"t":360,"r":0.68},{"s":94,"t":420,"r":0.8},{"s":94,"t":460,"r":1.1},{"s":94,"t":480,"r":1.5},{"s":94,"t":495,"r":2.0},
{"s":106,"t":0,"r":0.7},{"s":106,"t":200,"r":0.72},{"s":106,"t":380,"r":0.8},{"s":106,"t":440,"r":0.95},{"s":106,"t":460,"r":1.5},{"s":106,"t":470,"r":2.1},
{"s":107,"t":0,"r":0.8},{"s":107,"t":200,"r":0.78},{"s":107,"t":330,"r":0.85},{"s":107,"t":380,"r":1.0},{"s":107,"t":400,"r":1.5},{"s":107,"t":412,"r":2.4},
{"s":108,"t":0,"r":0.66},{"s":108,"t":200,"r":0.7},{"s":108,"t":400,"r":0.75},{"s":108,"t":500,"r":0.8},{"s":108,"t":540,"r":0.95},{"s":108,"t":560,"r":1.2},{"s":108,"t":575,"r":1.6}
],
"black":[{"t":0,"r":0.525},{"t":16,"r":0.5},{"t":32,"r":0.46},{"t":49,"r":0.43},{"t":64,"r":0.4},{"t":74,"r":0.43},{"t":88,"r":0.48},{"t":100,"r":0.46},{"t":117,"r":0.48},{"t":131,"r":0.48},{"t":144,"r":0.52},{"t":156,"r":0.52},{"t":170,"r":0.46},{"t":180,"r":0.48},{"t":195,"r":0.52},{"t":209,"r":0.58},{"t":224,"r":0.52},{"t":238,"r":0.55},{"t":257,"r":0.556},{"t":272,"r":0.61},{"t":287,"r":0.65},{"t":301,"r":0.65},{"t":313,"r":0.645},{"t":323,"r":0.71},{"t":330,"r":0.82},{"t":340,"r":1.05},{"t":349,"r":1.38},{"t":361,"r":1.78},{"t":373,"r":2.1},{"t":386,"r":2.39},{"t":394,"r":2.58}],
"box":[{"t":227,"r":0.37,"t2":401,"r2":2.7}],
"conn":[{"t":227,"r":2.7,"t2":555,"r2":5.229},{"t":401,"r":0.37,"t2":862,"r2":3.232}],
"inbox":[{"t":555,"r":3.232,"t2":862,"r2":5.229}],
"iticks":[{"t":546,"r":5.066,"t2":555,"r2":5.066},{"t":546,"r":4.633,"t2":555,"r2":4.633},{"t":546,"r":4.199,"t2":555,"r2":4.199},{"t":546,"r":3.766,"t2":555,"r2":3.766},{"t":546,"r":3.34,"t2":555,"r2":3.34},{"t":595,"r":3.232,"t2":595,"r2":3.167},{"t":683,"r":3.232,"t2":683,"r2":3.167},{"t":771,"r":3.232,"t2":771,"r2":3.167},{"t":859.5,"r":3.232,"t2":859.5,"r2":3.167}],
"dash":[{"t":750,"r":3.232,"t2":750,"r2":5.229},{"t":775,"r":3.232,"t2":775,"r2":5.229},{"t":800,"r":3.232,"t2":800,"r2":5.229},{"t":825,"r":3.232,"t2":825,"r2":5.229}],
"dashnow":[{"t":850,"r":3.232,"t2":850,"r2":5.229}],
"icurve":[{"t":569,"r":3.333},{"t":590,"r":3.338},{"t":610,"r":3.343},{"t":635,"r":3.387},{"t":659,"r":3.43},{"t":683,"r":3.43},{"t":707,"r":3.424},{"t":727,"r":3.495},{"t":741,"r":3.622},{"t":750,"r":3.777},{"t":763,"r":3.983},{"t":775,"r":4.178},{"t":787,"r":4.344},{"t":800,"r":4.521},{"t":812,"r":4.67},{"t":825,"r":4.817},{"t":838,"r":4.958},{"t":850,"r":5.085}],
"dots":[{"t":750,"r":3.777},{"t":775,"r":4.178},{"t":800,"r":4.521},{"t":825,"r":4.817},{"t":850,"r":5.085}],
"links":[{"t":638,"r":4.199,"t2":750,"r2":3.777},{"t":638,"r":4.199,"t2":775,"r2":4.178},{"t":638,"r":4.199,"t2":800,"r2":4.521},{"t":638,"r":4.199,"t2":825,"r2":4.817},{"t":638,"r":4.199,"t2":850,"r2":5.085}],
"brk":[{"t":585,"r":3.904,"t2":585,"r2":4.456},{"t":585,"r":4.456,"t2":589.5,"r2":4.456},{"t":585,"r":3.904,"t2":589.5,"r2":3.904},{"t":634,"r":3.904,"t2":634,"r2":4.456},{"t":629.5,"r":4.456,"t2":634,"r2":4.456},{"t":629.5,"r":3.904,"t2":634,"r2":3.904}],
"frac":[{"t":600,"r":4.026,"t2":618,"r2":4.026}],
"bigtxt":[{"t":609,"r":4.326,"label":"R₀"}],
"smalltxt":[{"t":609,"r":4.093,"label":"∂R₀"},{"t":609,"r":3.963,"label":"∂t"}],
"cbar":[{"lo":0,"hi":1}]
},
"hconcat":[
{
"width":607,"height":528,
"title":{"text":"Consistent health metric","fontSize":19.5,"font":"Liberation Serif","fontWeight":"normal","color":"#333","offset":3},
"encoding":{
"x":{"field":"t","type":"quantitative","scale":{"domain":[0,880],"nice":false,"zero":false},"axis":{"title":"time (days)","titleFontSize":24,"titlePadding":3,"values":[0,100,200,300,400,500,600,700,800],"labelPadding":3}},
"y":{"field":"r","type":"quantitative","scale":{"domain":[-0.2,5.52],"nice":false,"zero":false},"axis":{"title":"R₀ (Ω)","titleFontSize":23,"titlePadding":7,"values":[0,1,2,3,4,5],"labelPadding":3}}
},
"layer":[
{"data":{"name":"pts"},"transform":[{"lookup":"s","from":{"data":{"name":"meta"},"key":"s","fields":["p"]}}],
"mark":{"type":"line","clip":true,"strokeWidth":1.1,"interpolate":"monotone"},
"encoding":{"detail":{"field":"s","type":"nominal"},"color":{"field":"p","type":"quantitative","scale":{"scheme":"redblue","reverse":true,"domain":[0,1]},"legend":null}}},
{"data":{"name":"black"},"mark":{"type":"line","color":"black","strokeWidth":2.6,"interpolate":"monotone"},"encoding":{}},
{"data":{"name":"box"},"mark":{"type":"rect","fillOpacity":0,"stroke":"#777","strokeWidth":1},"encoding":{"x2":{"field":"t2"},"y2":{"field":"r2"}}},
{"data":{"name":"conn"},"mark":{"type":"rule","color":"#777","strokeWidth":1},"encoding":{"x2":{"field":"t2"},"y2":{"field":"r2"}}},
{"data":{"name":"inbox"},"mark":{"type":"rect","fill":"white","stroke":"#222","strokeWidth":1.3},"encoding":{"x2":{"field":"t2"},"y2":{"field":"r2"}}},
{"data":{"name":"iticks"},"mark":{"type":"rule","color":"#333","strokeWidth":1},"encoding":{"x2":{"field":"t2"},"y2":{"field":"r2"}}},
{"data":{"name":"dash"},"mark":{"type":"rule","color":"#111","strokeWidth":1.3,"strokeDash":[5,3]},"encoding":{"x2":{"field":"t2"},"y2":{"field":"r2"}}},
{"data":{"name":"dashnow"},"mark":{"type":"rule","color":"#ff2020","strokeWidth":1.3,"strokeDash":[5,3]},"encoding":{"x2":{"field":"t2"},"y2":{"field":"r2"}}},
{"data":{"name":"icurve"},"mark":{"type":"line","color":"#9ecae1","strokeWidth":4,"opacity":0.5,"interpolate":"monotone"},"encoding":{}},
{"data":{"name":"icurve"},"mark":{"type":"line","color":"#2b7bba","strokeWidth":1.8,"interpolate":"monotone"},"encoding":{}},
{"data":{"name":"links"},"mark":{"type":"rule","color":"black","strokeWidth":1},"encoding":{"x2":{"field":"t2"},"y2":{"field":"r2"}}},
{"data":{"name":"dots"},"mark":{"type":"point","filled":true,"color":"#0000ff","size":75,"opacity":1},"encoding":{}},
{"data":{"name":"brk"},"mark":{"type":"rule","color":"#666","strokeWidth":1.2},"encoding":{"x2":{"field":"t2"},"y2":{"field":"r2"}}},
{"data":{"name":"frac"},"mark":{"type":"rule","color":"#444","strokeWidth":0.8},"encoding":{"x2":{"field":"t2"},"y2":{"field":"r2"}}},
{"data":{"name":"bigtxt"},"mark":{"type":"text","font":"Liberation Serif","fontStyle":"italic","fontSize":20,"color":"#444","baseline":"middle","align":"center"},"encoding":{"text":{"field":"label"}}},
{"data":{"name":"smalltxt"},"mark":{"type":"text","font":"Liberation Serif","fontStyle":"italic","fontSize":11,"color":"#444","baseline":"middle","align":"center"},"encoding":{"text":{"field":"label"}}}
]
},
{
"width":29,"height":528,
"data":{"name":"cbar"},
"mark":{"type":"rect","stroke":"#333","strokeWidth":0.8,"fill":{"gradient":"linear","x1":0,"y1":1,"x2":0,"y2":0,"stops":[{"offset":0,"color":"#053061"},{"offset":0.1,"color":"#2166ac"},{"offset":0.2,"color":"#4393c3"},{"offset":0.3,"color":"#92c5de"},{"offset":0.4,"color":"#d1e5f0"},{"offset":0.5,"color":"#f7f7f7"},{"offset":0.6,"color":"#fddbc7"},{"offset":0.7,"color":"#f4a582"},{"offset":0.8,"color":"#d6604d"},{"offset":0.9,"color":"#b2182b"},{"offset":1,"color":"#67001f"}]}},
"encoding":{
"x":{"value":0},"x2":{"value":"width"},
"y":{"field":"lo","type":"quantitative","scale":{"domain":[0,1],"nice":false},"axis":{"orient":"right","values":[0,0.2,0.4,0.6,0.8,1],"format":".1f","title":"probability of failure","titleFontSize":15,"titleAngle":270,"titleBaseline":"top","titlePadding":4,"labelPadding":3}},
"y2":{"field":"hi"}
}
}
]
}
